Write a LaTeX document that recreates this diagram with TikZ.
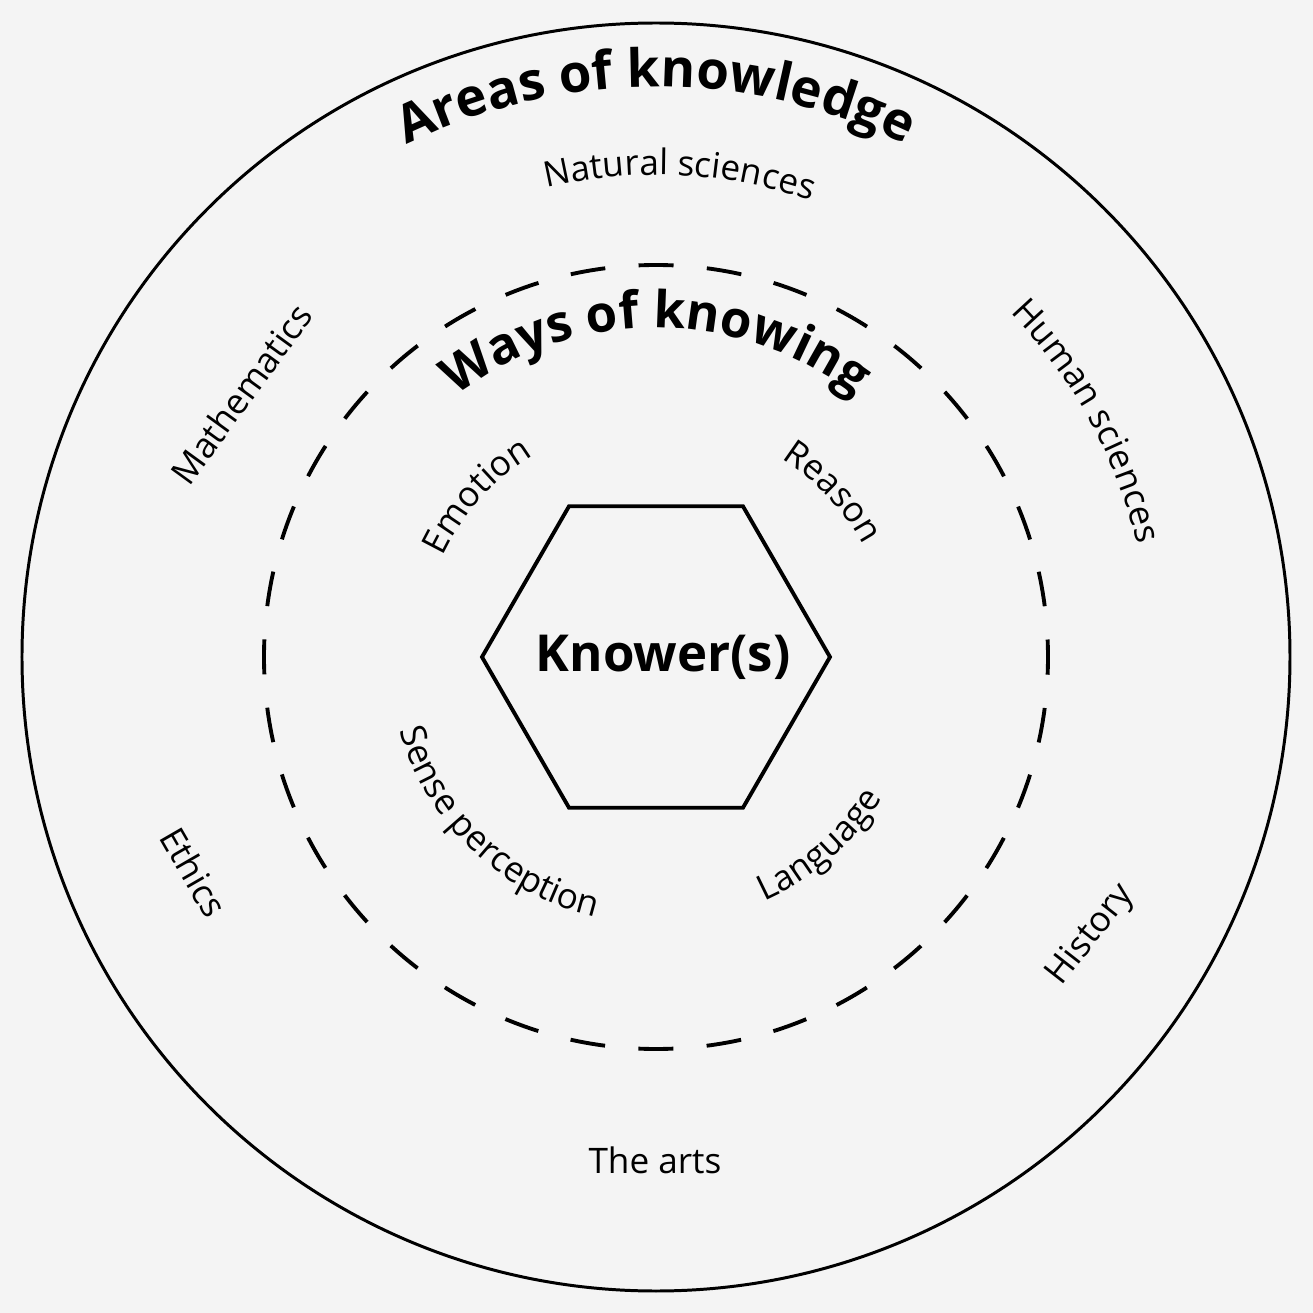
\documentclass[tikz,border=0pt]{standalone}
\usepackage{fontspec}
\setmainfont{Open Sans}
\usetikzlibrary{%
  shapes.geometric,%
  decorations.text%
}
\definecolor{paper}{RGB}{244,244,244}

\begin{document}
\begin{tikzpicture}[
  arctext/.style={decorate,decoration={text along path,text align=center,text={#1}}},
  title/.style={font=\bfseries\fontsize{14.5}{17}\selectfont}
]
\fill[paper] (-6.56,-6.56) rectangle (6.57,6.57);
\useasboundingbox (-6.56,-6.56) rectangle (6.57,6.57);
\node[circle,draw,line width=0.85pt,inner sep=0,minimum size=12.68cm] (aok) at (0,0) {};
\node[circle,draw,line width=1.1pt,inner sep=0,minimum size=7.84cm,
  dash pattern=on 0.35cm off 0.3342cm,dash phase=0.175cm] (wok) at (0,0) {};
\node[regular polygon,regular polygon sides=6,draw,line width=1.1pt,inner sep=0,
  minimum size=3.48cm] (knower) at (0,0) {};
\node[title,xshift=0.07cm] (knowers) at (knower.center) {Knower(s)};
% areas of knowledge
\path[arctext={|\bfseries\fontsize{15}{18}\selectfont|Areas of knowledge}]
  (150:5.70) arc[start angle=150,end angle=30,radius=5.70];
\path[arctext={Natural sciences}] (147.2:4.82) arc[start angle=147.2,end angle=27.2,radius=4.82];
\path[arctext={Human sciences}] (88.7:4.94) arc[start angle=88.7,end angle=-31.3,radius=4.94];
\node[rotate=54] (maths) at (-4.15,2.63) {Mathematics};
\node[rotate=-60] (ethics) at (-4.62,-2.15) {Ethics};
\node[rotate=52] (history) at (4.35,-2.78) {History};
\node (arts) at (-0.01,-5.03) {The arts};
% ways of knowing
\path[arctext={|\bfseries\fontsize{14.5}{17}\selectfont|Ways of knowing}]
  (150:3.29) arc[start angle=150,end angle=30,radius=3.29];
\path[arctext={Emotion}] (188:2.36) arc[start angle=188,end angle=88,radius=2.36];
\path[arctext={Reason}] (93:2.35) arc[start angle=93,end angle=-7,radius=2.35];
\path[arctext={Sense perception}] (176.5:2.67) arc[start angle=176.5,end angle=276.5,radius=2.67];
\path[arctext={Language}] (261:2.67) arc[start angle=261,end angle=361,radius=2.67];
\end{tikzpicture}
\end{document}
